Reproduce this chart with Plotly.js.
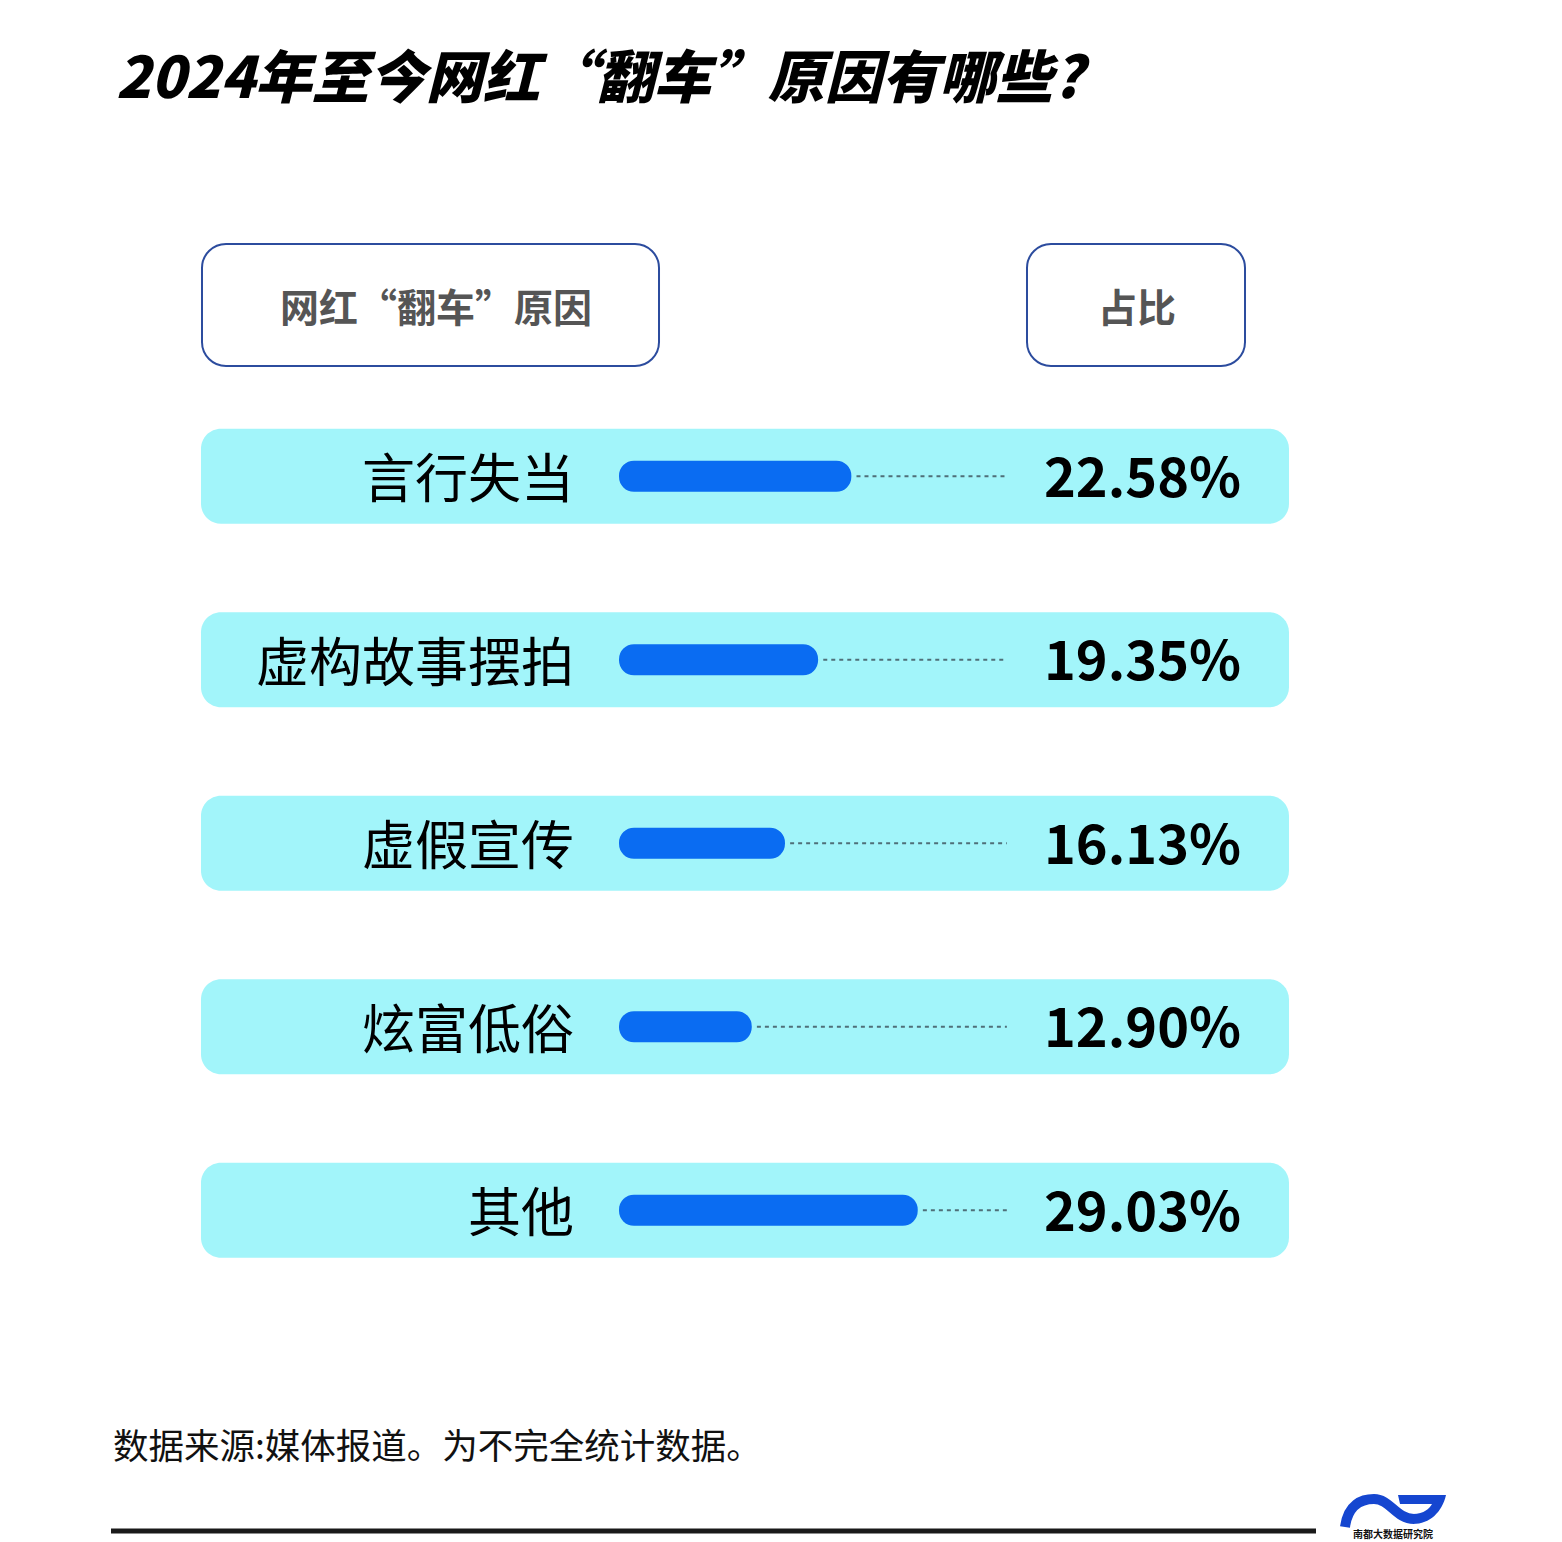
<!DOCTYPE html>
<html><head><meta charset="utf-8">
<script src="https://cdn.plot.ly/plotly-3.0.1.min.js"></script>
<style>html,body{margin:0;padding:0;background:#fff;}#chart{width:1562px;height:1542px;}</style>
</head><body><div id="chart"></div>
<script>
const titleText = '2024年至今网红“翻车”原因有哪些?';
const headerLeft = '网红“翻车”原因';
const headerRight = '占比';
const categories = ['言行失当','虚构故事摆拍','虚假宣传','炫富低俗','其他'];
const shares = [22.58, 19.35, 16.13, 12.90, 29.03];
const sourceNote = '数据来源:媒体报道。为不完全统计数据。';
const logoText = '南都大数据研究院';

const W = 1562, H = 1542;
const FONT = '"Noto Sans CJK SC", "Noto Sans", sans-serif';
const px = x => x / W;
const py = y => 1 - y / H;
const XMAX = 37.7;
const PXU = 10.29;   // pixels per percentage point
const X0 = 619;      // pixel of value 0

function rr(x0, y0, x1, y1, r) {
  const P = (x, y) => px(x).toFixed(5) + ',' + py(y).toFixed(5);
  const k = 0.4477;
  return 'M' + P(x0 + r, y0) + ' L' + P(x1 - r, y0) +
    ' C' + P(x1 - r * k, y0) + ' ' + P(x1, y0 + r * k) + ' ' + P(x1, y0 + r) +
    ' L' + P(x1, y1 - r) +
    ' C' + P(x1, y1 - r * k) + ' ' + P(x1 - r * k, y1) + ' ' + P(x1 - r, y1) +
    ' L' + P(x0 + r, y1) +
    ' C' + P(x0 + r * k, y1) + ' ' + P(x0, y1 - r * k) + ' ' + P(x0, y1 - r) +
    ' L' + P(x0, y0 + r) +
    ' C' + P(x0, y0 + r * k) + ' ' + P(x0 + r * k, y0) + ' ' + P(x0 + r, y0) + ' Z';
}

const rowTop = 384.5, rowH = 183.5;
const shapes = [];
shapes.push({type: 'path', xref: 'paper', yref: 'paper', path: rr(202, 244, 659, 366, 24),
  line: {color: '#2C4C9E', width: 2}, fillcolor: '#ffffff', layer: 'below'});
shapes.push({type: 'path', xref: 'paper', yref: 'paper', path: rr(1027, 244, 1245, 366, 24),
  line: {color: '#2C4C9E', width: 2}, fillcolor: '#ffffff', layer: 'below'});
categories.forEach((c, i) => {
  const cy = rowTop + rowH * (i + 0.5);
  shapes.push({type: 'path', xref: 'paper', yref: 'paper', path: rr(201, cy - 47.5, 1289, cy + 47.5, 20),
    line: {width: 0}, fillcolor: '#A2F5FA', layer: 'below'});
});
shapes.push({type: 'line', xref: 'paper', yref: 'paper', x0: px(111), x1: px(1316), y0: py(1531), y1: py(1531),
  line: {color: '#1a1a1a', width: 5}});
// logo
const L = (x, y) => px(x).toFixed(5) + ',' + py(y).toFixed(5);
shapes.push({type: 'path', xref: 'paper', yref: 'paper',
  path: 'M' + L(1345, 1527) + ' C' + L(1348, 1504) + ' ' + L(1362, 1499) + ' ' + L(1374, 1499) +
        ' C' + L(1390, 1499) + ' ' + L(1396, 1519) + ' ' + L(1414, 1519),
  line: {color: '#1546D0', width: 10}, fillcolor: 'rgba(0,0,0,0)'});
shapes.push({type: 'path', xref: 'paper', yref: 'paper',
  path: 'M' + L(1398, 1495) + ' L' + L(1446, 1495) + ' C' + L(1442, 1512) + ' ' + L(1430, 1524) + ' ' + L(1413, 1524) +
        ' L' + L(1413, 1514) + ' C' + L(1424, 1514) + ' ' + L(1430, 1508) + ' ' + L(1432, 1504) +
        ' L' + L(1400, 1504) + ' Z',
  line: {width: 0}, fillcolor: '#1546D0'});

const dashX = [], dashY = [];
categories.forEach((c, i) => { dashX.push(shares[i] + 0.5, XMAX, null); dashY.push(c, c, null); });

const traces = [
  {type: 'scatter', mode: 'lines', x: dashX, y: dashY, hoverinfo: 'skip', showlegend: false,
   line: {color: '#4F6F78', width: 2, dash: '4px,4px'}},
  // explicit base so both ends of each bar get rounded caps
  {type: 'bar', orientation: 'h', x: shares, base: 0, y: categories, width: 0.17, hoverinfo: 'skip', showlegend: false,
   marker: {color: '#0A6CF2', cornerradius: 16, line: {width: 0}}}
];

const annotations = [];
annotations.push({text: titleText, xref: 'paper', yref: 'paper', x: px(114), y: py(73), xanchor: 'left', yanchor: 'middle',
  showarrow: false, font: {family: FONT, size: 57, color: '#000', weight: 900, style: 'italic'}});
annotations.push({text: headerLeft, xref: 'paper', yref: 'paper', x: px(436), y: py(305), xanchor: 'center', yanchor: 'middle',
  showarrow: false, font: {family: FONT, size: 39, color: '#555555', weight: 700}});
annotations.push({text: headerRight, xref: 'paper', yref: 'paper', x: px(1137), y: py(305), xanchor: 'center', yanchor: 'middle',
  showarrow: false, font: {family: FONT, size: 39, color: '#555555', weight: 700}});
categories.forEach((c, i) => {
  annotations.push({text: c, xref: 'paper', yref: 'y', x: px(576), y: c, xanchor: 'right', yanchor: 'middle',
    yshift: 1, showarrow: false, font: {family: FONT, size: 53, color: '#000'}});
  annotations.push({text: shares[i].toFixed(2) + '%', xref: 'paper', yref: 'y', x: px(1042), y: c, xanchor: 'left', yanchor: 'middle',
    yshift: 3, showarrow: false, font: {family: FONT, size: 54, color: '#000', weight: 700}});
});
annotations.push({text: sourceNote, xref: 'paper', yref: 'paper', x: px(111), y: py(1443), xanchor: 'left', yanchor: 'middle',
  showarrow: false, font: {family: FONT, size: 35.5, color: '#111'}});
annotations.push({text: logoText, xref: 'paper', yref: 'paper', x: px(1393), y: py(1533), xanchor: 'center', yanchor: 'middle',
  showarrow: false, font: {family: FONT, size: 10, color: '#111', weight: 700}});

const layout = {
  width: W, height: H, margin: {l: 0, r: 0, t: 0, b: 0},
  paper_bgcolor: '#ffffff', plot_bgcolor: 'rgba(0,0,0,0)',
  showlegend: false, dragmode: false,
  xaxis: {domain: [px(X0), px(X0 + XMAX * PXU)], range: [0, XMAX], showgrid: false, zeroline: false,
          showticklabels: false, showline: false, ticks: '', fixedrange: true},
  yaxis: {type: 'category', categoryorder: 'array', categoryarray: categories,
          domain: [py(rowTop + rowH * 5), py(rowTop)], range: [4.5, -0.5],
          showgrid: false, zeroline: false, showticklabels: false, showline: false, ticks: '', fixedrange: true},
  shapes: shapes, annotations: annotations
};

Plotly.newPlot('chart', traces, layout, {displayModeBar: false, staticPlot: true});
</script></body></html>
